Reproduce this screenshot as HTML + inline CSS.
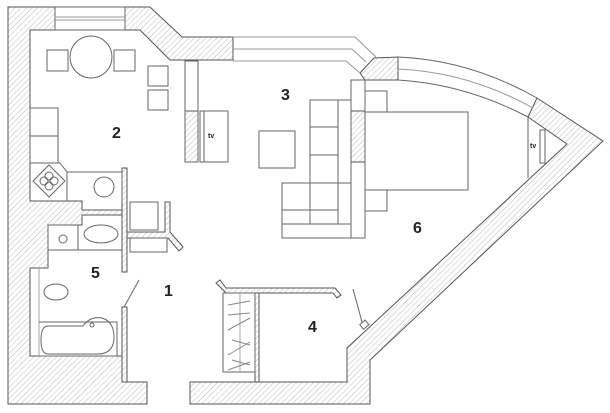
<!DOCTYPE html>
<html><head><meta charset="utf-8"><style>
html,body{margin:0;padding:0;background:#fff;width:610px;height:413px;overflow:hidden}
svg{display:block}
text{font-family:"Liberation Sans",sans-serif;font-weight:bold;fill:#222}
</style></head><body>
<svg width="610" height="413" viewBox="0 0 610 413" xmlns="http://www.w3.org/2000/svg">
<defs>
<pattern id="h" patternUnits="userSpaceOnUse" width="4" height="4" patternTransform="rotate(45)">
<rect width="4" height="4" fill="#fff"/><line x1="0" y1="0" x2="0" y2="4" stroke="#bbb" stroke-width="1"/>
</pattern>
</defs>
<g stroke="#555" stroke-width="1" fill="url(#h)">
<!-- left wall -->
<path d="M8,7 L55,7 L55,30 L30,30 L30,201 L82,201 L82,210 L122,210 L122,215 L82,215 L82,225 L48,225 L48,268 L30,268 L30,356 L122,356 L122,382 L147,382 L147,404 L8,404 Z"/>
<!-- top hatched -->
<path d="M125,7 L150,7 L182,37 L233,37 L233,60 L170,60 L140,30 L125,30 Z"/>
<!-- hatched block near curve -->
<path d="M360,73 L374,58 L398,57 L398,80 L365,80 Z"/>
<!-- diagonal right wall -->
<path d="M537,98 L603,141 L370,360 L370,404 L190,404 L190,382 L347,382 L347,348 L567,144 L528,117 Z"/>
<!-- partitions hatched -->
<rect x="185" y="111" width="13" height="51"/>
<rect x="351" y="111" width="14" height="51"/>
<rect x="122" y="168" width="5" height="104"/>
<rect x="122" y="307" width="5" height="75"/>
<path d="M216,283 L220,280 L226,288 L335,288 L341,295 L337,298 L333,293 L226,293 Z"/>
<rect x="255" y="293" width="4" height="89"/>
<path d="M165,202 L170,202 L170,232 L183,247 L179,251 L168,238 L127,238 L127,232 L165,232 Z"/>
</g>
<g stroke="#666" stroke-width="1" fill="none">
<!-- top window -->
<rect x="55" y="7" width="70" height="23"/>
<line x1="55" y1="17" x2="125" y2="17" stroke="#999"/>
<line x1="55" y1="20" x2="125" y2="20" stroke="#999"/>
<path d="M233,37 L355,37 L376,57" stroke="#999"/>
<path d="M233,49 L352,49 L366,62" stroke="#999"/>
<path d="M233,61 L346,61 L360,73" stroke="#999"/>
<!-- curve window -->
<path d="M398,57 Q470,60 537,98"/>
<path d="M398,69 Q468,72 533,108" stroke="#999"/>
<path d="M398,80 Q465,84 528,117"/>
<!-- room 3 partition -->
<rect x="185" y="61" width="13" height="101"/>
<rect x="351" y="80" width="14" height="158"/>
<!-- tv cabinet -->
<rect x="200" y="111" width="28" height="51"/>
<line x1="204" y1="111" x2="204" y2="162"/>
<!-- coffee table -->
<rect x="259" y="131" width="36" height="37"/>
<!-- sofa -->
<rect x="310" y="100" width="41" height="124"/>
<line x1="338" y1="100" x2="338" y2="224"/>
<line x1="310" y1="127" x2="338" y2="127"/>
<line x1="310" y1="155" x2="338" y2="155"/>
<line x1="282" y1="183" x2="338" y2="183" stroke="#aaa"/>
<rect x="282" y="183" width="69" height="55"/>
<line x1="282" y1="210" x2="338" y2="210"/>
<line x1="282" y1="224" x2="351" y2="224"/>
<!-- bed -->
<rect x="365" y="112" width="103" height="78"/>
<rect x="365" y="91" width="22" height="21"/>
<rect x="365" y="190" width="22" height="21"/>
<!-- right tv -->
<line x1="528" y1="117" x2="528" y2="178"/>
<rect x="540" y="130" width="5" height="33"/>
<!-- dining -->
<circle cx="91" cy="57" r="21"/>
<rect x="47" y="50" width="21" height="21"/>
<rect x="114" y="50" width="21" height="21"/>
<rect x="148" y="66" width="20" height="20"/>
<rect x="148" y="90" width="20" height="20"/>
<!-- kitchen -->
<rect x="30" y="108" width="28" height="55"/>
<line x1="30" y1="136" x2="58" y2="136"/>
<path d="M30,163 L60,163 L67,172 L122,172 L122,201"/>
<path d="M67,172 L67,201"/>
<path d="M49,165 L65,181 L49,197 L33,181 Z"/>
<circle cx="44" cy="181" r="4"/><circle cx="54" cy="181" r="4"/>
<circle cx="49" cy="176" r="4"/><circle cx="49" cy="186" r="4"/>
<circle cx="104" cy="187" r="10"/>
<!-- boxes near entry -->
<rect x="130" y="202" width="28" height="28"/>
<rect x="130" y="238" width="37" height="14"/>
<!-- bathroom -->
<rect x="48" y="225" width="30" height="25"/>
<circle cx="63" cy="239" r="4"/>
<ellipse cx="101" cy="234" rx="17" ry="9"/>
<line x1="78" y1="250" x2="122" y2="250"/>
<ellipse cx="56" cy="292" rx="12" ry="8"/>
<line x1="39" y1="268" x2="39" y2="356" stroke="#aaa"/>
<path d="M39,322 L117,322 L117,356 L39,356"/>
<path d="M48,326 L83,326 Q90,316 102,318 Q115,322 114,340 Q112,354 98,354 L48,354 Q41,354 41,340 Q41,326 48,326 Z"/>
<circle cx="92" cy="325" r="2"/>
<!-- doors -->
<line x1="139" y1="280" x2="124" y2="307"/>
<line x1="353" y1="289" x2="362" y2="322"/>
<rect x="361" y="322" width="7" height="6" transform="rotate(-40 364 325)"/>
<!-- wardrobe -->
<rect x="223" y="293" width="32" height="79"/>
<line x1="240" y1="293" x2="240" y2="372" stroke="#aaa"/>
<path d="M228,305 L250,301 M228,315 L250,313 M228,330 L250,318 M232,340 L250,345 M228,355 L250,342 M232,360 L250,365 M228,370 L250,362" stroke="#888"/>
</g>
<text x="208" y="138" font-size="7" font-weight="normal" fill="#444">tv</text>
<text x="530" y="148" font-size="7" font-weight="normal" fill="#444">tv</text>
<text x="112" y="138" font-size="16">2</text>
<text x="281" y="100" font-size="16">3</text>
<text x="413" y="233" font-size="16">6</text>
<text x="91" y="278" font-size="16">5</text>
<text x="164" y="296" font-size="16">1</text>
<text x="308" y="332" font-size="16">4</text>
</svg>
</body></html>
